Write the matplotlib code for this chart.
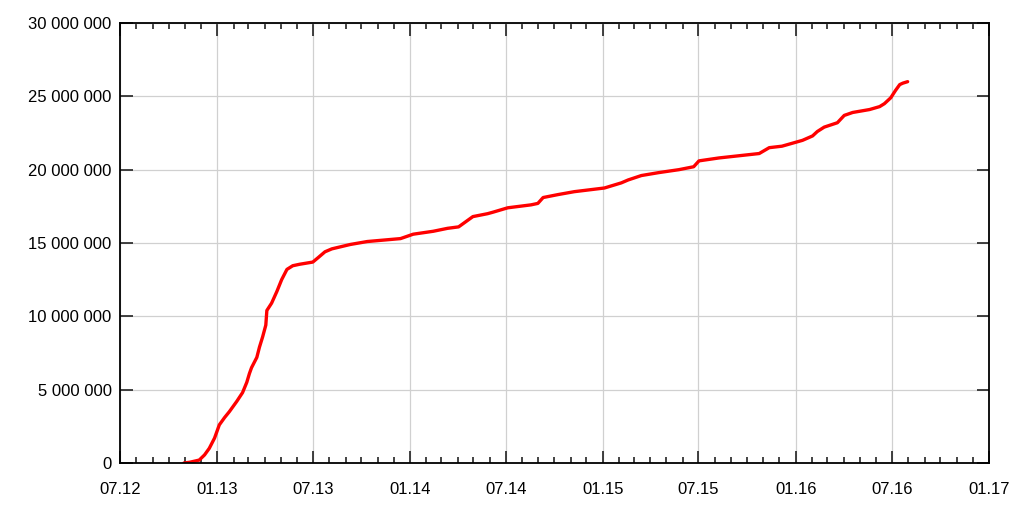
import numpy as np
import pandas as pd
import matplotlib
matplotlib.use('Agg')
import matplotlib.pyplot as plt
import matplotlib.dates as mdates
from matplotlib.ticker import FuncFormatter, MultipleLocator

plt.rcParams['font.family'] = ['Liberation Sans', 'DejaVu Sans']

dates = ['2012-10-30', '2012-11-10', '2012-11-28', '2012-12-08', '2012-12-17',
         '2012-12-27', '2013-01-05', '2013-01-15', '2013-01-24', '2013-02-07',
         '2013-02-18', '2013-02-26', '2013-03-03', '2013-03-07', '2013-03-17',
         '2013-03-22', '2013-03-28', '2013-04-03', '2013-04-05', '2013-04-14',
         '2013-04-24', '2013-05-03', '2013-05-13', '2013-05-24', '2013-06-06',
         '2013-07-01', '2013-07-11', '2013-07-24', '2013-08-06', '2013-09-10',
         '2013-10-12', '2013-12-14', '2014-01-07', '2014-02-14', '2014-03-13',
         '2014-04-03', '2014-04-30', '2014-05-28', '2014-06-07', '2014-07-05',
         '2014-08-18', '2014-08-31', '2014-09-10', '2014-10-08', '2014-11-08',
         '2015-01-04', '2015-02-05', '2015-02-18', '2015-03-15', '2015-04-17',
         '2015-05-25', '2015-06-22', '2015-07-02', '2015-08-09', '2015-10-24',
         '2015-11-12', '2015-12-06', '2016-01-14', '2016-02-02', '2016-02-11',
         '2016-02-24', '2016-03-20', '2016-04-02', '2016-04-18', '2016-05-20',
         '2016-06-08', '2016-06-17', '2016-06-29', '2016-07-08', '2016-07-16',
         '2016-07-22', '2016-07-31']
# cumulative total, in millions
total_m = [0.0, 0.05, 0.2, 0.55, 1.0,
           1.7, 2.6, 3.1, 3.5, 4.2,
           4.8, 5.5, 6.1, 6.5, 7.2,
           7.9, 8.6, 9.4, 10.4, 10.9,
           11.7, 12.5, 13.2, 13.45, 13.55,
           13.7, 14.0, 14.4, 14.6, 14.9,
           15.1, 15.3, 15.6, 15.8, 16.0,
           16.1, 16.8, 17.0, 17.1, 17.4,
           17.6, 17.7, 18.1, 18.3, 18.5,
           18.75, 19.1, 19.3, 19.6, 19.8,
           20.0, 20.2, 20.6, 20.8, 21.1,
           21.5, 21.6, 22.0, 22.3, 22.6,
           22.9, 23.2, 23.7, 23.9, 24.1,
           24.3, 24.5, 24.9, 25.4, 25.8,
           25.9, 26.0]

x = pd.to_datetime(dates)
y = np.array(total_m) * 1e6

fig = plt.figure(figsize=(10.24, 5.12), dpi=100)
ax = fig.add_axes([120 / 1024, 49 / 512, 869 / 1024, 440 / 512])

ax.plot(x, y, color='#ff0000', lw=2.4, solid_joinstyle='round', solid_capstyle='round')

ax.set_xlim(pd.Timestamp('2012-07-01'), pd.Timestamp('2017-01-01'))
ax.set_ylim(0, 30e6)

ax.xaxis.set_major_locator(mdates.MonthLocator(bymonth=[1, 7]))
ax.xaxis.set_minor_locator(mdates.MonthLocator())
ax.xaxis.set_major_formatter(mdates.DateFormatter('%m.%y'))
ax.yaxis.set_major_locator(MultipleLocator(5e6))
ax.yaxis.set_major_formatter(FuncFormatter(lambda v, p: f'{int(v):,}'.replace(',', ' ')))

ax.grid(True, which='major', color='#d0d0d0', lw=0.9)
ax.set_axisbelow(True)

ax.tick_params(which='major', direction='in', length=9, width=1.2,
               top=True, right=True, labelsize=12, color='#222222')
ax.tick_params(axis='x', which='major', pad=14)
ax.tick_params(axis='y', which='major', pad=6)
ax.tick_params(axis='x', which='minor', direction='in', length=4.5, width=1.2,
               top=True, color='#222222')
for s in ax.spines.values():
    s.set_linewidth(1.3)

fig.savefig('out.png', dpi=100)
